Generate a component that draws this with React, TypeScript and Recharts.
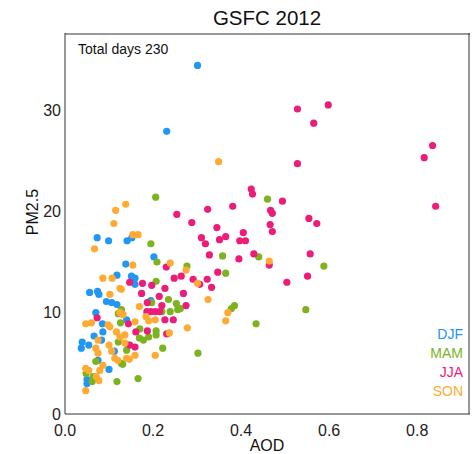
import React from "react";
import { ScatterChart, Scatter, XAxis, YAxis } from "recharts";

// [AOD, PM2.5] pairs, one list per season
const djf: [number, number][] = [
  [0.301, 34.4], [0.231, 27.9], [0.073, 17.4], [0.099, 17.1], [0.141, 17.1],
  [0.152, 17.4], [0.202, 15.5], [0.138, 14.8], [0.118, 13.7], [0.151, 13.6],
  [0.159, 13.4], [0.159, 12.8], [0.056, 12.0], [0.074, 12.1], [0.077, 11.8],
  [0.094, 11.1], [0.106, 11.0], [0.118, 10.8], [0.07, 10.0], [0.14, 9.3],
  [0.195, 11.2], [0.085, 8.9], [0.086, 8.1], [0.066, 7.7], [0.083, 7.3],
  [0.039, 7.1], [0.037, 6.5], [0.054, 6.8], [0.112, 6.2], [0.075, 5.3],
  [0.1, 4.4], [0.05, 3.4], [0.05, 3.0],
];

const mam: [number, number][] = [
  [0.206, 21.4], [0.195, 16.8], [0.209, 15.0], [0.277, 14.6], [0.207, 13.1],
  [0.235, 11.3], [0.253, 10.9], [0.256, 10.3], [0.239, 10.1], [0.22, 10.1],
  [0.128, 10.3], [0.121, 9.9], [0.126, 9.0], [0.197, 11.0], [0.17, 8.4],
  [0.207, 8.2], [0.207, 7.8], [0.169, 7.5], [0.178, 7.3], [0.144, 6.8],
  [0.14, 6.3], [0.222, 6.5], [0.302, 6.0], [0.128, 5.0], [0.166, 3.5],
  [0.121, 7.1], [0.07, 5.2], [0.131, 4.9], [0.048, 4.0], [0.064, 3.7],
  [0.062, 3.2], [0.118, 3.2], [0.46, 21.2], [0.358, 15.6], [0.44, 15.5],
  [0.588, 14.6], [0.365, 13.9], [0.378, 10.4], [0.385, 10.7], [0.434, 8.9],
  [0.547, 10.3], [0.262, 10.4], [0.19, 7.6],
];

const jja: [number, number][] = [
  [0.598, 30.5], [0.528, 30.1], [0.565, 28.7], [0.835, 26.5], [0.816, 25.3],
  [0.842, 20.5], [0.528, 24.7], [0.423, 22.2], [0.426, 21.7], [0.494, 21.0],
  [0.324, 20.2], [0.381, 20.5], [0.467, 20.1], [0.471, 19.8], [0.288, 18.9],
  [0.554, 19.3], [0.572, 18.8], [0.466, 18.7], [0.471, 18.0], [0.345, 18.4],
  [0.31, 17.4], [0.405, 17.9], [0.365, 17.5], [0.351, 17.2], [0.319, 16.8],
  [0.397, 17.1], [0.41, 17.1], [0.328, 15.7], [0.395, 15.3], [0.429, 15.8],
  [0.464, 14.7], [0.557, 15.8], [0.347, 14.0], [0.323, 13.3], [0.306, 12.8],
  [0.333, 12.5], [0.551, 13.6], [0.504, 13.0], [0.254, 19.7], [0.23, 14.5],
  [0.147, 13.0], [0.176, 12.9], [0.197, 12.7], [0.248, 13.4], [0.264, 13.6],
  [0.291, 13.3], [0.174, 11.9], [0.214, 11.6], [0.227, 12.4], [0.269, 11.9],
  [0.187, 11.0], [0.22, 10.7], [0.275, 10.7], [0.186, 10.1], [0.195, 10.1],
  [0.205, 10.1], [0.215, 10.1], [0.227, 9.3], [0.144, 8.9], [0.161, 8.1],
  [0.187, 8.2], [0.231, 7.9], [0.159, 6.6], [0.073, 9.5], [0.246, 9.3],
  [0.147, 6.8],
];

const son: [number, number][] = [
  [0.349, 24.9], [0.138, 20.7], [0.115, 20.1], [0.111, 18.8], [0.154, 17.7],
  [0.166, 17.7], [0.067, 16.3], [0.154, 14.7], [0.239, 14.9], [0.275, 14.2],
  [0.086, 13.4], [0.107, 13.4], [0.301, 12.9], [0.128, 12.3], [0.102, 11.8],
  [0.125, 12.4], [0.169, 10.6], [0.132, 9.8], [0.184, 9.6], [0.19, 9.2],
  [0.205, 9.3], [0.159, 9.1], [0.278, 8.5], [0.237, 8.0], [0.136, 7.8],
  [0.136, 7.0], [0.159, 5.8], [0.146, 5.4], [0.205, 5.8], [0.464, 15.1],
  [0.325, 11.3], [0.37, 10.0], [0.365, 9.2], [0.047, 8.9], [0.06, 9.0],
  [0.098, 8.8], [0.125, 7.6], [0.075, 7.3], [0.07, 6.5], [0.075, 6.0],
  [0.1, 6.8], [0.106, 6.2], [0.113, 5.5], [0.12, 5.3], [0.086, 4.8],
  [0.047, 4.5], [0.054, 4.3], [0.079, 4.3], [0.077, 3.3], [0.047, 2.3],
  [0.102, 8.6], [0.117, 8.1], [0.14, 5.5], [0.071, 3.7], [0.125, 10.0],
];

const seasons = ["DJF", "MAM", "JJA", "SON"];
const colors = ["#2196f3", "#7cb31e", "#ec1c79", "#ffab33"];

const xLabelTicks = [0, 0.2, 0.4, 0.6, 0.8];
const xMajorTicks = [0.2, 0.4, 0.6, 0.8];
const xMinorTicks = [0.05, 0.1, 0.15, 0.25, 0.3, 0.35, 0.45, 0.5, 0.55, 0.65, 0.7, 0.75, 0.85, 0.9];
const yLabelTicks = [0, 10, 20, 30];
const yMajorTicks = [10, 20, 30];
const yMinorTicks = [1, 2, 3, 4, 5, 6, 7, 8, 9, 11, 12, 13, 14, 15, 16, 17, 18, 19,
  21, 22, 23, 24, 25, 26, 27, 28, 29, 31, 32, 33, 34, 35, 36, 37];

const X_DOMAIN: [number, number] = [0, 0.92];
const Y_DOMAIN: [number, number] = [0, 37.6];
const FONT = '"Liberation Sans", Arial, Helvetica, sans-serif';
const AXIS = "#333";

const toPoints = (rows: [number, number][]) => rows.map(([x, y]) => ({ x, y }));

const dot = (fill: string) => (props: any) => (
  <circle cx={props.cx} cy={props.cy} r={3.6} fill={fill} />
);

export default function App() {
  const tickFont = { fontSize: 16, fill: "#222", fontFamily: FONT };
  const series = [djf, mam, jja, son];

  return (
    <div style={{ position: "absolute", left: 0, top: 0, width: 473, height: 454, background: "#fff", fontFamily: FONT }}>
      {/* axes of size 0 are skipped by recharts, so the label axes get 1px and the margins make up for it */}
      <ScatterChart width={473} height={454} margin={{ top: 33, right: 3, bottom: 39, left: 64 }}>
        {/* bottom axis with labels */}
        <XAxis xAxisId="x" type="number" dataKey="x" domain={X_DOMAIN} allowDataOverflow
          ticks={xLabelTicks} interval={0} tickFormatter={(v) => v.toFixed(1)}
          tickLine={false} tickSize={0} tickMargin={11} height={1}
          axisLine={{ stroke: AXIS }} tick={tickFont} />
        {/* inward ticks, bottom and top */}
        <XAxis xAxisId="xMinB" type="number" domain={X_DOMAIN} allowDataOverflow ticks={xMinorTicks}
          interval={0} mirror height={1} tick={false} tickSize={4} axisLine={false} tickLine={{ stroke: AXIS }} />
        <XAxis xAxisId="xMajB" type="number" domain={X_DOMAIN} allowDataOverflow ticks={xMajorTicks}
          interval={0} mirror height={1} tick={false} tickSize={8} axisLine={false} tickLine={{ stroke: AXIS }} />
        <XAxis xAxisId="xMinT" orientation="top" type="number" domain={X_DOMAIN} allowDataOverflow ticks={xMinorTicks}
          interval={0} mirror height={1} tick={false} tickSize={4} axisLine={{ stroke: AXIS }} tickLine={{ stroke: AXIS }} />
        <XAxis xAxisId="xMajT" orientation="top" type="number" domain={X_DOMAIN} allowDataOverflow ticks={xMajorTicks}
          interval={0} mirror height={1} tick={false} tickSize={8} axisLine={false} tickLine={{ stroke: AXIS }} />

        {/* left axis with labels */}
        <YAxis yAxisId="y" type="number" dataKey="y" domain={Y_DOMAIN} allowDataOverflow
          ticks={yLabelTicks} interval={0} tickLine={false} tickSize={0} tickMargin={4} width={1}
          axisLine={{ stroke: AXIS }} tick={tickFont} />
        <YAxis yAxisId="yMinL" type="number" domain={Y_DOMAIN} allowDataOverflow ticks={yMinorTicks}
          interval={0} mirror width={1} tick={false} tickSize={4} axisLine={false} tickLine={{ stroke: AXIS }} />
        <YAxis yAxisId="yMajL" type="number" domain={Y_DOMAIN} allowDataOverflow ticks={yMajorTicks}
          interval={0} mirror width={1} tick={false} tickSize={8} axisLine={false} tickLine={{ stroke: AXIS }} />
        <YAxis yAxisId="yMinR" orientation="right" type="number" domain={Y_DOMAIN} allowDataOverflow ticks={yMinorTicks}
          interval={0} mirror width={1} tick={false} tickSize={4} axisLine={{ stroke: AXIS }} tickLine={{ stroke: AXIS }} />
        <YAxis yAxisId="yMajR" orientation="right" type="number" domain={Y_DOMAIN} allowDataOverflow ticks={yMajorTicks}
          interval={0} mirror width={1} tick={false} tickSize={8} axisLine={false} tickLine={{ stroke: AXIS }} />

        {series.map((rows, i) => (
          <Scatter key={seasons[i]} name={seasons[i]} xAxisId="x" yAxisId="y"
            data={toPoints(rows)} fill={colors[i]} shape={dot(colors[i])} isAnimationActive={false} />
        ))}
      </ScatterChart>

      <div style={{ position: "absolute", left: 167, top: 8, width: 200, textAlign: "center", fontSize: 20.5, lineHeight: 1, color: "#111" }}>
        GSFC 2012
      </div>
      <div style={{ position: "absolute", left: 78, top: 41.5, fontSize: 14, lineHeight: 1, color: "#111" }}>
        Total days 230
      </div>
      {seasons.map((s, i) => (
        <div key={s} style={{ position: "absolute", right: 473 - 463, top: 327 + i * 19, fontSize: 14, lineHeight: 1, color: colors[i] }}>
          {s}
        </div>
      ))}
      <div style={{ position: "absolute", left: 217, top: 438, width: 100, textAlign: "center", fontSize: 16, lineHeight: 1, color: "#111" }}>
        AOD
      </div>
      <div style={{ position: "absolute", left: 33, top: 212, fontSize: 16, lineHeight: 1, color: "#111",
        transform: "translate(-50%, -50%) rotate(-90deg)", whiteSpace: "nowrap" }}>
        PM2.5
      </div>
    </div>
  );
}
